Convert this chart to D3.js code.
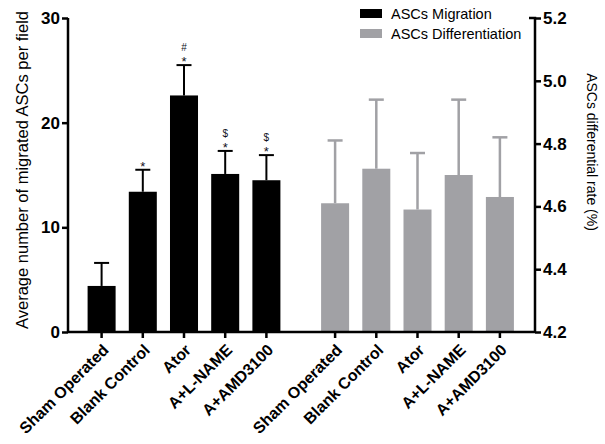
<!DOCTYPE html>
<html>
<head>
<meta charset="utf-8">
<script src="https://cdn.jsdelivr.net/npm/d3@7"></script>
<style>
  body { margin: 0; background: #fff; }
  svg { display: block; font-family: "Liberation Sans", Arial, sans-serif; }
</style>
</head>
<body>
<svg id="chart" width="605" height="444"></svg>
<script>
// Groups (same five groups for both measurements)
const groups = ["Sham Operated", "Blank Control", "Ator", "A+L-NAME", "A+AMD3100"];

// Migration: mean and upper error (cells per field)
const migrationMean = [4.4, 13.4, 22.6, 15.1, 14.5];
const migrationErr  = [6.6, 15.5, 25.5, 17.3, 16.9];
// Significance marks above migration bars (top line first)
const migrationMarks = [[], ["*"], ["#", "*"], ["$", "*"], ["$", "*"]];

// Differentiation: mean and upper error (%)
const diffMean = [4.61, 4.72, 4.59, 4.70, 4.63];
const diffErr  = [4.81, 4.94, 4.77, 4.94, 4.82];

const leftTicks = [0, 10, 20, 30];
const rightTicks = [4.2, 4.4, 4.6, 4.8, 5.0, 5.2];

const svg = d3.select("#chart");
const x0 = 68, x1 = 535, yBase = 332, yTop = 18;

const yL = d3.scaleLinear().domain([0, 30]).range([yBase, yTop]);
const yR = d3.scaleLinear().domain([4.2, 5.2]).range([yBase, yTop]);

const xL = d3.scaleBand().domain(groups).range([81, 287]).paddingInner(0.32).paddingOuter(0.16);
const xR = d3.scaleBand().domain(groups).range([314.5, 520.5]).paddingInner(0.32).paddingOuter(0.16);

const black = "#000000", gray = "#a1a1a5";
const capW = 15;

// Error bars (upper only), drawn under the bars
function errorBars(xs, ys, means, errs, color, sw) {
  const g = svg.append("g").attr("stroke", color).attr("stroke-width", sw);
  groups.forEach((d, i) => {
    const cx = xs(d) + xs.bandwidth() / 2;
    g.append("line").attr("x1", cx).attr("x2", cx).attr("y1", ys(means[i])).attr("y2", ys(errs[i]));
    g.append("line").attr("x1", cx - capW / 2).attr("x2", cx + capW / 2).attr("y1", ys(errs[i])).attr("y2", ys(errs[i]));
  });
}
errorBars(xL, yL, migrationMean, migrationErr, black, 2);
errorBars(xR, yR, diffMean, diffErr, gray, 2.5);

svg.append("g").selectAll("rect").data(groups).join("rect")
  .attr("x", d => xL(d)).attr("width", xL.bandwidth())
  .attr("y", (d, i) => yL(migrationMean[i]))
  .attr("height", (d, i) => yBase - yL(migrationMean[i]))
  .attr("fill", black);

svg.append("g").selectAll("rect").data(groups).join("rect")
  .attr("x", d => xR(d)).attr("width", xR.bandwidth())
  .attr("y", (d, i) => yR(diffMean[i]))
  .attr("height", (d, i) => yBase - yR(diffMean[i]))
  .attr("fill", gray);

// Significance marks: star just above the cap, other symbol above the star
groups.forEach((d, i) => {
  const cx = xL(d) + xL.bandwidth() / 2;
  const top = yL(migrationErr[i]);
  migrationMarks[i].forEach(m => {
    const isStar = m === "*";
    svg.append("text")
      .attr("x", cx).attr("y", isStar ? top + 1 : top - 14)
      .attr("text-anchor", "middle")
      .attr("font-size", isStar ? 13 : 10)
      .attr("fill", "#111122")
      .text(m);
  });
});

// Axes
const axL = svg.append("g").attr("transform", `translate(${x0},0)`)
  .call(d3.axisLeft(yL).tickValues(leftTicks).tickSize(6).tickPadding(2).tickFormat(d3.format("d")));
const axR = svg.append("g").attr("transform", `translate(${x1},0)`)
  .call(d3.axisRight(yR).tickValues(rightTicks).tickSize(6).tickPadding(2).tickFormat(d3.format(".1f")));
[axL, axR].forEach(a => {
  a.select(".domain").attr("stroke-width", 2.5).attr("d", `M0,${yTop}V${yBase}`);
  a.selectAll(".tick line").attr("stroke-width", 2.5);
  a.selectAll(".tick text").attr("font-size", 17).attr("font-weight", "bold").attr("fill", "#000")
    .attr("font-family", "Liberation Sans, Arial, sans-serif");
});
axR.select(".domain").attr("d", `M-6,${yTop}H0V${yBase}`);

// Baseline
svg.append("line").attr("x1", x0).attr("x2", x1).attr("y1", yBase).attr("y2", yBase)
  .attr("stroke", "#000").attr("stroke-width", 2.5);

// Category ticks and rotated labels
function catAxis(xs) {
  const g = svg.append("g");
  groups.forEach(d => {
    const cx = xs(d) + xs.bandwidth() / 2;
    g.append("line").attr("x1", cx).attr("x2", cx).attr("y1", yBase).attr("y2", yBase + 6)
      .attr("stroke", "#000").attr("stroke-width", 2.5);
    g.append("text")
      .attr("transform", `translate(${cx + 8},${yBase + 19}) rotate(-45)`)
      .attr("text-anchor", "end").attr("font-size", 16).attr("font-weight", "bold")
      .text(d);
  });
}
catAxis(xL);
catAxis(xR);

// Axis titles
svg.append("text")
  .attr("transform", `translate(28,170) rotate(-90)`)
  .attr("text-anchor", "middle").attr("font-size", 16.5)
  .text("Average number of migrated ASCs per field");
svg.append("text")
  .attr("transform", `translate(587,152) rotate(90)`)
  .attr("text-anchor", "middle").attr("font-size", 14)
  .text("ASCs differential rate (%)");

// Legend
const legend = [["ASCs Migration", black], ["ASCs Differentiation", gray]];
legend.forEach(([label, color], i) => {
  svg.append("rect").attr("x", 360).attr("y", 9 + i * 20).attr("width", 22).attr("height", 9).attr("fill", color);
  svg.append("text").attr("x", 391).attr("y", 19 + i * 20).attr("font-size", 14.5).text(label);
});
</script>
</body>
</html>
